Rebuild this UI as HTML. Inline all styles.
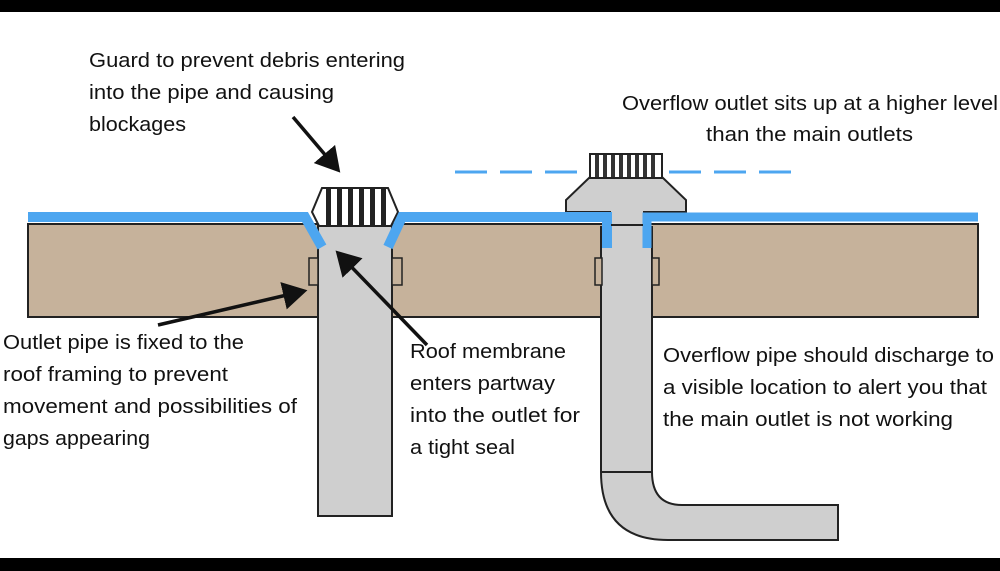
<!DOCTYPE html>
<html><head><meta charset="utf-8"><style>
html,body{margin:0;padding:0;background:#fff}
svg{display:block}
text{font-family:"Liberation Sans",sans-serif;font-size:20px;fill:#111}
</style></head><body>
<svg width="1000" height="571" viewBox="0 0 1000 571" xmlns="http://www.w3.org/2000/svg">
<rect x="0" y="0" width="1000" height="12" fill="#000"/>
<rect x="0" y="558" width="1000" height="13" fill="#000"/>
<!-- slab -->
<rect x="28" y="224" width="950" height="93" fill="#c6b29b" stroke="#222" stroke-width="2"/>
<!-- left pipe -->
<rect x="318" y="226" width="74" height="290" fill="#cfcfcf" stroke="#222" stroke-width="2"/>
<rect x="309" y="258" width="9" height="27" fill="#c6b29b" stroke="#222" stroke-width="1.5"/>
<rect x="392" y="258" width="10" height="27" fill="#c6b29b" stroke="#222" stroke-width="1.5"/>
<!-- left guard -->
<polygon points="322,188 388,188 398,212 391,226 319,226 312,212" fill="#fff" stroke="#222" stroke-width="2"/>
<g fill="#222"><rect x="326" y="189" width="5" height="36"/><rect x="337" y="189" width="5" height="36"/><rect x="348" y="189" width="5" height="36"/><rect x="359" y="189" width="5" height="36"/><rect x="370" y="189" width="5" height="36"/><rect x="381" y="189" width="5" height="36"/></g>
<!-- right pipe -->
<path d="M601,226 L601,472 Q601,540 668,540 L838,540 L838,505 L682,505 Q652,505 652,472 L652,226" fill="#cfcfcf" stroke="#222" stroke-width="2"/>
<line x1="601" y1="472" x2="652" y2="472" stroke="#222" stroke-width="2"/>
<rect x="611" y="212" width="32" height="36" fill="#cfcfcf"/>
<line x1="611" y1="225" x2="643" y2="225" stroke="#222" stroke-width="2"/>
<rect x="595" y="258" width="7" height="27" fill="#c6b29b" stroke="#222" stroke-width="1.5"/>
<rect x="652" y="258" width="7" height="27" fill="#c6b29b" stroke="#222" stroke-width="1.5"/>
<!-- hood -->
<polygon points="590,177 662,177 686,200 686,212 566,212 566,200" fill="#cfcfcf" stroke="#222" stroke-width="2"/>
<rect x="611" y="205" width="32" height="20" fill="#cfcfcf"/>
<rect x="590" y="154" width="72" height="24" fill="#fff" stroke="#222" stroke-width="2"/>
<g fill="#333"><rect x="595" y="155" width="4" height="22"/><rect x="603" y="155" width="4" height="22"/><rect x="611" y="155" width="4" height="22"/><rect x="619" y="155" width="4" height="22"/><rect x="627" y="155" width="4" height="22"/><rect x="635" y="155" width="4" height="22"/><rect x="643" y="155" width="4" height="22"/><rect x="651" y="155" width="4" height="22"/></g>
<!-- membrane -->
<polyline points="28,217 305,217 322,247" fill="none" stroke="#4da6f0" stroke-width="10"/>
<polyline points="978,217 647,217 647,248" fill="none" stroke="#4da6f0" stroke-width="9"/>
<polyline points="388,247 402,217 607,217 607,248" fill="none" stroke="#4da6f0" stroke-width="10"/>
<line x1="611" y1="225" x2="643" y2="225" stroke="#222" stroke-width="2"/>
<!-- dashed water line -->
<g stroke="#4da6f0" stroke-width="3"><line x1="455" y1="172" x2="487" y2="172"/><line x1="500" y1="172" x2="532" y2="172"/><line x1="545" y1="172" x2="577" y2="172"/><line x1="669" y1="172" x2="701" y2="172"/><line x1="714" y1="172" x2="746" y2="172"/><line x1="759" y1="172" x2="791" y2="172"/></g>
<!-- arrows -->
<defs><marker id="ah" markerWidth="8" markerHeight="8" refX="6" refY="4" orient="auto" markerUnits="strokeWidth"><path d="M0,0 L7,4 L0,8 Z" fill="#111"/></marker></defs>
<g stroke="#111" stroke-width="3.5" marker-end="url(#ah)"><line x1="293" y1="117" x2="338" y2="170"/><line x1="158" y1="325" x2="304" y2="291"/><line x1="427" y1="345" x2="338" y2="253"/></g>
<!-- text -->
<text x="89" y="67" textLength="316" lengthAdjust="spacingAndGlyphs">Guard to prevent debris entering</text>
<text x="89" y="99" textLength="245" lengthAdjust="spacingAndGlyphs">into the pipe and causing</text>
<text x="89" y="131" textLength="97" lengthAdjust="spacingAndGlyphs">blockages</text>
<text x="622" y="110" textLength="376" lengthAdjust="spacingAndGlyphs">Overflow outlet sits up at a higher level</text>
<text x="706" y="141" textLength="207" lengthAdjust="spacingAndGlyphs">than the main outlets</text>
<text x="3" y="349" textLength="241" lengthAdjust="spacingAndGlyphs">Outlet pipe is fixed to the</text>
<text x="3" y="381" textLength="225" lengthAdjust="spacingAndGlyphs">roof framing to prevent</text>
<text x="3" y="413" textLength="294" lengthAdjust="spacingAndGlyphs">movement and possibilities of</text>
<text x="3" y="445" textLength="147" lengthAdjust="spacingAndGlyphs">gaps appearing</text>
<text x="410" y="358" textLength="156" lengthAdjust="spacingAndGlyphs">Roof membrane</text>
<text x="410" y="390" textLength="145" lengthAdjust="spacingAndGlyphs">enters partway</text>
<text x="410" y="422" textLength="170" lengthAdjust="spacingAndGlyphs">into the outlet for</text>
<text x="410" y="454" textLength="105" lengthAdjust="spacingAndGlyphs">a tight seal</text>
<text x="663" y="362" textLength="331" lengthAdjust="spacingAndGlyphs">Overflow pipe should discharge to</text>
<text x="663" y="394" textLength="324" lengthAdjust="spacingAndGlyphs">a visible location to alert you that</text>
<text x="663" y="426" textLength="290" lengthAdjust="spacingAndGlyphs">the main outlet is not working</text>
</svg>
</body></html>
